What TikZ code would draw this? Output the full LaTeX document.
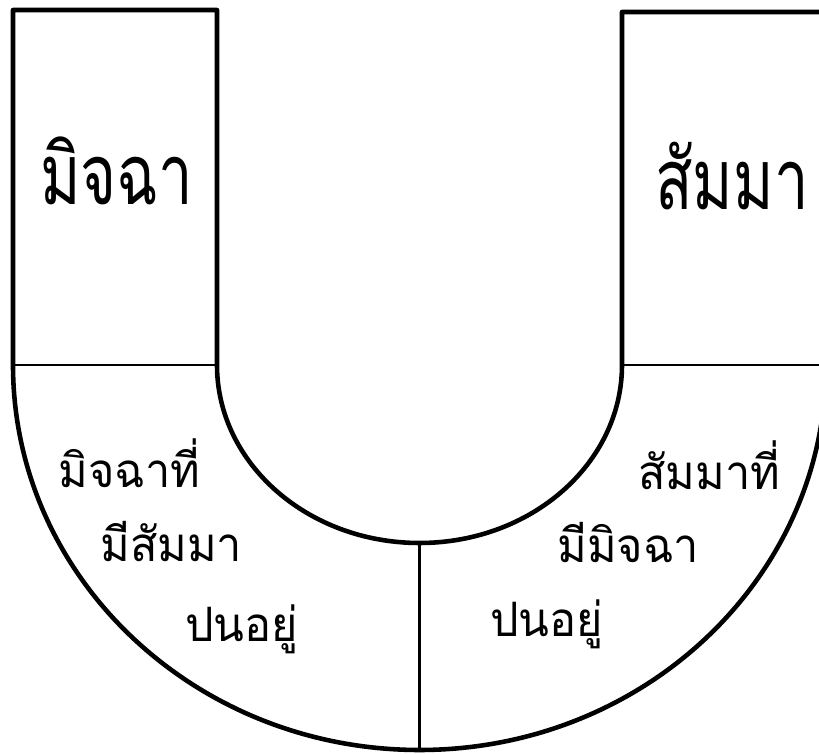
\documentclass[tikz,border=0pt]{standalone}
\usepackage{fontspec}
\newfontfamily\thaifont[Script=Thai,FakeStretch=0.95]{Loma}
\newfontfamily\thaibig[Script=Thai,FakeStretch=0.73]{Loma}
\usepackage{tikz}

\begin{document}
\begin{tikzpicture}[x=0.02cm,y=0.02cm,
  big/.style={anchor=base west,inner sep=0pt,font=\thaibig\fontsize{48}{52}\selectfont},
  small/.style={anchor=base west,inner sep=0pt,font=\thaifont\fontsize{27}{30}\selectfont}]
\useasboundingbox (0,0) rectangle (819,754);
\clip (0,0) rectangle (819,754);
\coordinate (O) at (419.5,389);
\draw[line width=2.6pt,line join=round] (13,389) -- (13,744) -- (217,744) -- (217,389)
  arc[start angle=180,end angle=360,x radius=202.5,y radius=178] -- (622,742) -- (840,742)
  -- (840,389) -- (826,389) arc[start angle=0,end angle=-180,x radius=406.5,y radius=385] -- cycle;
\draw[line width=1.2pt] (13,389) -- (217,389);
\draw[line width=1.2pt] (622,389) -- (826,389);
\draw[line width=1.2pt] (419.5,211) -- (419.5,4);
\node[big] (mijcha) at (40,549) {มิจฉา};
\node[big] (samma) at (655,544) {สัมมา};
\node[small] (l1) at (58,266) {มิจฉาที่};
\node[small] (l2) at (100,192) {มีสัมมา};
\node[small] (l3) at (185,112) {ปนอยู่};
\node[small] (r1) at (638,264) {สัมมาที่};
\node[small] (r2) at (557,191) {มีมิจฉา};
\node[small] (r3) at (490,117) {ปนอยู่};
\end{tikzpicture}
\end{document}
